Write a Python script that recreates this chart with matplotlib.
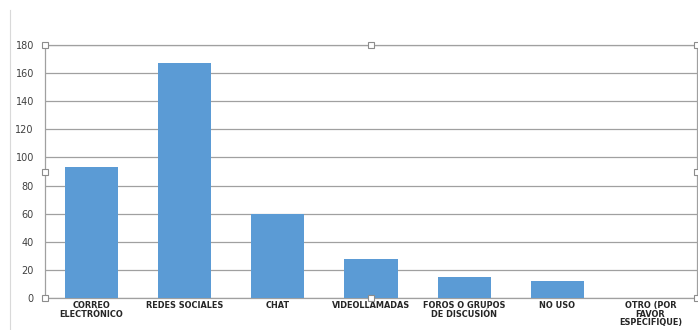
import matplotlib.pyplot as plt
import numpy as np

# Data
categories = ['CORREO\nELECTRÓNICO', 'REDES SOCIALES', 'CHAT', 'VIDEOLLAMADAS',
              'FOROS O GRUPOS\nDE DISCUSIÓN', 'NO USO', 'OTRO (POR\nFAVOR\nESPECIFIQUE)']
values = [93, 167, 60, 28, 15, 12, 0]
yticks = [0, 20, 40, 60, 80, 100, 120, 140, 160, 180]

barColor = '#5b9bd5'
gridColor = '#a0a0a0'

fig = plt.figure(figsize=(6.98, 3.30), dpi=100)
ax = fig.add_axes([45 / 698, 32 / 330, 652 / 698, 253 / 330])

x = np.arange(len(categories))
ax.bar(x, values, width=0.57, color=barColor, zorder=3)

ax.set_xlim(-0.5, len(categories) - 0.5)
ax.set_ylim(0, 180)
ax.set_yticks(yticks)
ax.set_yticklabels([str(t) for t in yticks], fontsize=7, color='#404040')
ax.set_xticks(x)
ax.set_xticklabels(categories, fontsize=5.9, fontweight='bold', color='#262626',
                   linespacing=0.98, va='top')
ax.tick_params(axis='x', length=0, pad=2)
ax.tick_params(axis='y', length=0, pad=8)

ax.yaxis.grid(True, color=gridColor, linewidth=0.9, zorder=0)
for side in ['left', 'bottom', 'right', 'top']:
    ax.spines[side].set_color(gridColor)
    ax.spines[side].set_linewidth(0.9)

# Selection handles around the plot area
hx = [0, 0.5, 1, 0, 1, 0, 0.5, 1]
hy = [1, 1, 1, 0.5, 0.5, 0, 0, 0]
ax.plot(hx, hy, 's', transform=ax.transAxes, markersize=4.5,
        markerfacecolor='white', markeredgecolor='#8c8c8c', markeredgewidth=0.8,
        clip_on=False, zorder=5)

# Faint outer border on the left
fig.add_artist(plt.Line2D([10 / 698, 10 / 698], [0, 1 - 10 / 330],
                          color='#d9d9d9', linewidth=0.8))

fig.savefig('out.png', dpi=100)
